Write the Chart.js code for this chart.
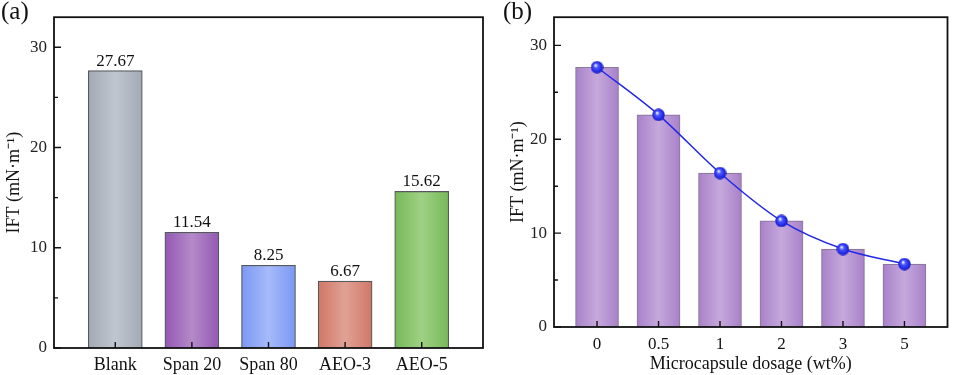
<!DOCTYPE html>
<html><head><meta charset="utf-8">
<script src="https://cdn.jsdelivr.net/npm/chart.js@4.4.1/dist/chart.umd.min.js"></script>
<style>
html,body{margin:0;padding:0;background:#fff;width:955px;height:375px;overflow:hidden;}
.wrap{position:absolute;top:0;height:375px;}
.pl{position:absolute;font-family:"Liberation Serif",serif;font-size:25px;color:#111;}
</style></head><body>
<div class="wrap" style="left:0;width:490px;"><canvas id="ca" width="490" height="375"></canvas></div>
<div class="wrap" style="left:485px;width:470px;"><canvas id="cb" width="470" height="375"></canvas></div>
<div class="pl" style="left:1px;top:-3px;">(a)</div>
<div class="pl" style="left:503px;top:-3px;">(b)</div>
<script>
// ---- data ----
const catsA = ['Blank','Span 20','Span 80','AEO-3','AEO-5'];
const valsA = [27.67, 11.54, 8.25, 6.67, 15.62];
const labelsA = ['27.67','11.54','8.25','6.67','15.62'];
const catsB = ['0','0.5','1','2','3','5'];
const valsB = [27.67, 22.6, 16.4, 11.3, 8.3, 6.7];
const yTicks = [0, 10, 20, 30];
const yMinor = [5, 15, 25];

// ---- styles ----
const colorsA = [
  ['#a3aab5','#c0c6cf'],
  ['#9358b3','#b58ac9'],
  ['#7b97f3','#a6bbfa'],
  ['#d07767','#e0a195'],
  ['#77b958','#9fd184']
];
const colorB = ['#a881c9','#c6a8dc'];
const FONT = '"Liberation Serif", "Times New Roman", serif';
Chart.defaults.font.family = FONT;
Chart.defaults.color = '#1a1a1a';
Chart.defaults.animation = false;

function grad(ctx, cols, thick){
  if (ctx.type !== 'data') return cols[0];
  const ch = ctx.chart, xs = ch.scales.x;
  if (!xs) return cols[0];
  const cx = xs.getPixelForValue(ctx.raw.x);
  if (!isFinite(cx)) return cols[0];
  const g = ch.ctx.createLinearGradient(cx - thick/2, 0, cx + thick/2, 0);
  g.addColorStop(0, cols[0]); g.addColorStop(0.5, cols[1]); g.addColorStop(1, cols[0]);
  return g;
}

const framePlugin = {
  id:'frame',
  afterDatasetsDraw(chart, args, opts){
    const {ctx, chartArea:a, scales} = chart;
    ctx.save();
    ctx.strokeStyle = '#111'; ctx.lineWidth = 1.4;
    ctx.beginPath();
    yTicks.forEach(v=>{ const y = scales.y.getPixelForValue(v); ctx.moveTo(a.left, y); ctx.lineTo(a.left+7, y); });
    yMinor.forEach(v=>{ const y = scales.y.getPixelForValue(v); ctx.moveTo(a.left, y); ctx.lineTo(a.left+4, y); });
    scales.x.ticks.forEach(t=>{ const x = scales.x.getPixelForValue(t.value); ctx.moveTo(x, a.bottom); ctx.lineTo(x, a.bottom-6); });
    ctx.stroke();
    ctx.lineWidth = 1.8;
    ctx.strokeRect(a.left, a.top, a.right-a.left, a.bottom-a.top);
    ctx.restore();
  }
};

const labelPlugin = {
  id:'vlabels',
  afterDatasetsDraw(chart){
    if (chart.canvas.id !== 'ca') return;
    const ctx = chart.ctx, meta = chart.getDatasetMeta(0);
    ctx.save();
    ctx.font = '17px ' + FONT; ctx.fillStyle = '#111';
    ctx.textAlign = 'center'; ctx.textBaseline = 'bottom';
    meta.data.forEach((el,i)=>{ ctx.fillText(labelsA[i], el.x, el.y - 1); });
    ctx.restore();
  }
};

function yScale(width){
  return {
    type:'linear', min:0, max:33,
    afterBuildTicks: s => { s.ticks = yTicks.map(v=>({value:v})); },
    afterFit: s => { s.width = width; },
    grid:{display:false, drawTicks:false},
    border:{display:false},
    ticks:{font:{size:17}, padding:7, color:'#222'},
    title:{display:true, text:'IFT (mN·m⁻¹)', font:{size:18}, color:'#111', padding:{top:3,bottom:0}}
  };
}

// ---- chart a ----
const thickA = 54;
new Chart(document.getElementById('ca'), {
  type:'bar',
  data:{ datasets:[{
    data: valsA.map((v,i)=>({x:i+1, y:v})),
    barThickness: thickA,
    backgroundColor: c => grad(c, colorsA[c.dataIndex] || colorsA[0], thickA),
    borderColor:'#55595f', borderWidth:1.2, borderSkipped:'bottom'
  }]},
  options:{
    responsive:false,
    layout:{padding:{left:0, right:7, top:4, bottom:0}},
    plugins:{legend:{display:false}, tooltip:{enabled:false}},
    scales:{
      x:{ type:'linear', min:0.2, max:5.8, offset:false,
          afterBuildTicks: s => { s.ticks = catsA.map((c,i)=>({value:i+1})); },
          afterFit: s => { s.height = 27; },
          grid:{display:false, drawTicks:false}, border:{display:false},
          ticks:{font:{size:18}, padding:6, color:'#111', maxRotation:0, autoSkip:false,
                 callback: v => catsA[Math.round(v)-1] }
      },
      y: yScale(54)
    }
  },
  plugins:[framePlugin, labelPlugin]
});

// ---- chart b ----
function sphere(){
  const c = document.createElement('canvas'); c.width = 13; c.height = 13;
  const g = c.getContext('2d');
  const rg = g.createRadialGradient(5,4.5,0.5,6.5,6.5,6.5);
  rg.addColorStop(0,'#e8ecff'); rg.addColorStop(0.3,'#4a55ff'); rg.addColorStop(0.8,'#1f25e0'); rg.addColorStop(1,'#1518b0');
  g.fillStyle = rg; g.beginPath(); g.arc(6.5,6.5,6.2,0,Math.PI*2); g.fill();
  return c;
}
const thickB = 43;
new Chart(document.getElementById('cb'), {
  type:'bar',
  data:{ datasets:[
    { type:'line', data: valsB.map((v,i)=>({x:i+1, y:v})),
      borderColor:'#2327e6', borderWidth:1.5, cubicInterpolationMode:'monotone',
      pointStyle: sphere(), pointRadius:6, order:0 },
    { data: valsB.map((v,i)=>({x:i+1, y:v})),
      barThickness: thickB,
      backgroundColor: c => grad(c, colorB, thickB),
      borderColor:'#8c7a9e', borderWidth:1.2, borderSkipped:'bottom', order:1 }
  ]},
  options:{
    responsive:false,
    layout:{padding:{left:19, right:1, top:7, bottom:0}},
    plugins:{legend:{display:false}, tooltip:{enabled:false}},
    scales:{
      x:{ type:'linear', min:0.3, max:6.7, offset:false,
          afterBuildTicks: s => { s.ticks = catsB.map((c,i)=>({value:i+1})); },
          afterFit: s => { s.height = 48; },
          grid:{display:false, drawTicks:false}, border:{display:false},
          ticks:{font:{size:17}, padding:7, color:'#111', maxRotation:0, autoSkip:false,
                 callback: v => catsB[Math.round(v)-1] },
          title:{display:true, text:'Microcapsule dosage (wt%)', font:{size:18}, color:'#111', padding:{top:0,bottom:0}}
      },
      y: yScale(50)
    }
  },
  plugins:[framePlugin]
});
</script>
</body></html>
